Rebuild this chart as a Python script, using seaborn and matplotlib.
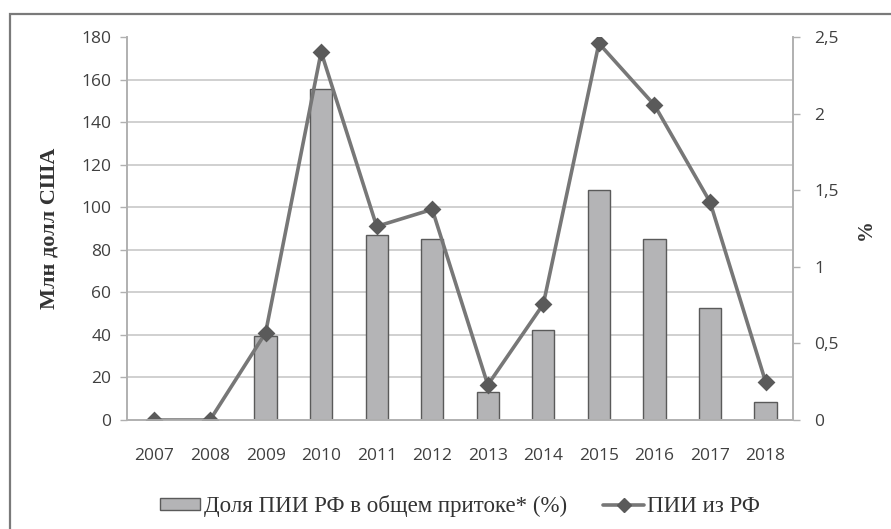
import numpy as np
import pandas as pd
import matplotlib
matplotlib.use("Agg")
import matplotlib.pyplot as plt
from matplotlib.patches import Patch, Rectangle
from matplotlib.lines import Line2D
from matplotlib.ticker import FixedLocator
import seaborn as sns

# Data
years = ["2007", "2008", "2009", "2010", "2011", "2012",
         "2013", "2014", "2015", "2016", "2017", "2018"]
share_pct = [0.0, 0.0, 0.55, 2.16, 1.21, 1.18, 0.18, 0.59, 1.50, 1.18, 0.73, 0.12]
fdi_musd = [0.0, 0.0, 41.0, 173.0, 91.0, 99.0, 16.5, 54.5, 177.0, 148.0, 102.5, 18.0]

bar_label = "Доля ПИИ РФ в общем притоке* (%)"
line_label = "ПИИ из РФ"
left_ylabel = "Млн долл США"
right_ylabel = "%"

df = pd.DataFrame({"year": years, "share": share_pct, "fdi": fdi_musd})

sns.set_theme(style="white")
tick_font = "Open Sans"
serif_font = "Liberation Serif"

fig = plt.figure(figsize=(8.91, 5.29), dpi=100)
fig.patch.set_facecolor("white")

# outer frame
fig.add_artist(Rectangle((10 / 891, -0.05), 1.2, 1 - 14 / 529 + 0.05,
                         transform=fig.transFigure, fill=False,
                         edgecolor="#7a7a7a", linewidth=1.6))

ax = fig.add_axes([0.1422, 0.2060, 0.7482, 0.7240])
ax2 = ax.twinx()

# bars: share (%) on the right-hand scale
sns.barplot(data=df, x="year", y="share", ax=ax, color="#b4b4b6",
            edgecolor="#5a5a5a", linewidth=1.0, width=0.4, saturation=1)
ax.set_ylim(0, 2.5)

# line: FDI (mln USD) on the left-hand scale
sns.pointplot(data=df, x="year", y="fdi", ax=ax2, color="#777777",
              markers="D", linestyles="-", markersize=7, linewidth=2.6)
ax2.set_ylim(0, 180)
for ln in ax2.lines:
    ln.set_markerfacecolor("#5a5a5a")
    ln.set_markeredgecolor("#5a5a5a")

ax.set_xlim(-0.5, len(years) - 0.5)

# swap sides: percent axis on the right, mln USD axis on the left
ax.yaxis.tick_right()
ax.yaxis.set_label_position("right")
ax2.yaxis.tick_left()
ax2.yaxis.set_label_position("left")

left_ticks = np.arange(0, 181, 20)
ax2.set_yticks(left_ticks)
ax2.set_yticklabels([str(t) for t in left_ticks])
right_ticks = [0, 0.5, 1, 1.5, 2, 2.5]
ax.set_yticks(right_ticks)
ax.set_yticklabels(["0", "0,5", "1", "1,5", "2", "2,5"])

# horizontal grid following the left-hand ticks, drawn beneath the bars
lo2, hi2 = ax2.get_ylim()
lo1, hi1 = ax.get_ylim()
grid_pos = [lo1 + (t - lo2) / (hi2 - lo2) * (hi1 - lo1) for t in left_ticks[1:]]
ax.yaxis.set_minor_locator(FixedLocator(grid_pos))
ax.grid(False)
ax2.grid(False)
ax.grid(axis="y", which="minor", color="#c8c8c8", linewidth=1.2)
ax.tick_params(axis="y", which="minor", length=0)
ax.set_axisbelow(True)

# category ticks between years
ax.set_xticks(np.arange(len(years)))
ax.set_xticklabels(years)
ax.xaxis.set_minor_locator(FixedLocator(np.arange(-0.5, len(years), 1)))
ax.tick_params(axis="x", which="major", length=0, pad=20)
ax.tick_params(axis="x", which="minor", length=5, width=1.0, color="#b0b0b0",
               direction="out")
ax.tick_params(axis="y", which="major", right=True, left=False, length=5,
               width=1.0, color="#b0b0b0", direction="out", pad=10)
ax2.tick_params(axis="y", which="major", left=True, right=False, length=5,
                width=1.0, color="#b0b0b0", direction="out", pad=6)

for a in (ax, ax2):
    for lab in a.get_xticklabels() + a.get_yticklabels():
        lab.set_fontfamily(tick_font)
        lab.set_fontsize(12.5)
        lab.set_color("#404040")

ax.set_xlabel("")
ax.set_ylabel("")
ax2.set_xlabel("")
ax2.set_ylabel("")

for a in (ax, ax2):
    a.spines["top"].set_visible(False)
    for s in ("left", "right", "bottom"):
        a.spines[s].set_color("#b0b0b0")
        a.spines[s].set_linewidth(1.2)
ax.patch.set_alpha(0)

fig.text(50 / 891, 1 - 228 / 529, left_ylabel, rotation=90, ha="center",
         va="center", fontfamily=serif_font, fontweight="bold", fontsize=16,
         color="#333333")
fig.text(866 / 891, 1 - 230 / 529, right_ylabel, rotation=90, ha="center",
         va="center", fontfamily=serif_font, fontweight="bold", fontsize=15,
         color="#333333")

handles = [
    Patch(facecolor="#b4b4b6", edgecolor="#5a5a5a", linewidth=1.0, label=bar_label),
    Line2D([], [], color="#777777", linewidth=2.6, marker="D", markersize=7,
           markerfacecolor="#5a5a5a", markeredgecolor="#5a5a5a", label=line_label),
]
fig.legend(handles=handles, loc="center", bbox_to_anchor=(460 / 891, 1 - 506 / 529),
           ncol=2, frameon=False, prop={"family": serif_font, "size": 16.5},
           handlelength=1.75, handleheight=0.45, handletextpad=0.15,
           columnspacing=1.6, labelcolor="#333333")

fig.savefig("out.png", dpi=100, facecolor="white")
